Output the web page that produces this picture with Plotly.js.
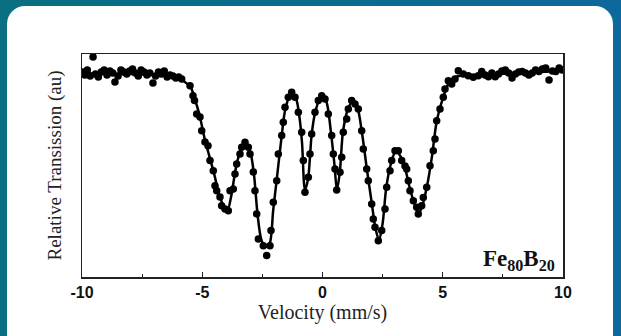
<!DOCTYPE html>
<html>
<head>
<meta charset="utf-8">
<script src="https://cdn.plot.ly/plotly-3.0.1.min.js"></script>
<style>
  html, body { margin: 0; padding: 0; }
  body { width: 621px; height: 336px; overflow: hidden; position: relative;
         background: linear-gradient(90deg, #0a6f80 0%, #0b6c8e 50%, #0d689c 100%); }
  #card { position: absolute; left: 7px; top: 6px; width: 606px; height: 350px;
          background: #ffffff; border-radius: 18px; }
  #chart { position: absolute; left: 0; top: 0; width: 621px; height: 336px; }
</style>
</head>
<body>
<div id="card"></div>
<div id="chart"></div>
<script>
// Measured Mössbauer spectrum (velocity in mm/s, relative transmission in a.u.)
const velocity = [
  -9.98, -9.88, -9.78, -9.66, -9.54, -9.44, -9.32, -9.20, -9.08, -8.96,
  -8.84, -8.72, -8.63, -8.50, -8.38, -8.26, -8.14, -8.02, -7.90, -7.78,
  -7.66, -7.54, -7.42, -7.30, -7.18, -7.05, -6.94, -6.82, -6.70, -6.58,
  -6.46, -6.34, -6.22, -6.10, -5.98,
  -5.855, -5.509, -5.385, -5.322, -5.231, -5.094, -5.023, -4.886, -4.761, -4.678,
  -4.541, -4.470, -4.399, -4.263, -4.193, -4.054, -3.917, -3.846, -3.709, -3.638,
  -3.568, -3.430, -3.360, -3.222, -3.085, -3.015, -2.877, -2.807, -2.736, -2.669,
  -2.462, -2.320, -2.183, -2.141, -2.046, -1.904, -1.838, -1.696, -1.630, -1.559,
  -1.422, -1.281, -1.143, -1.006, -0.865, -0.798, -0.728, -0.590, -0.520, -0.449,
  -0.312, -0.175, -0.033, 0.104, 0.241, 0.383, 0.449, 0.520, 0.590, 0.728,
  0.798, 0.865, 1.006, 1.073, 1.214, 1.351, 1.489, 1.630, 1.696, 1.838,
  1.904, 2.046, 2.112, 2.183, 2.320, 2.462, 2.599, 2.669, 2.807, 2.877,
  3.015, 3.152, 3.293, 3.430, 3.500, 3.568, 3.638, 3.776, 3.917, 3.983,
  4.123, 4.191, 4.333, 4.470, 4.607, 4.678, 4.748, 4.886, 5.023, 5.094,
  5.231, 5.372, 5.509, 5.647, 5.855, 6.062, 6.270, 6.478,
  6.62, 6.76, 6.90, 7.04, 7.18, 7.32, 7.46, 7.60, 7.74, 7.88,
  8.02, 8.16, 8.30, 8.44, 8.58, 8.72, 8.86, 9.00, 9.14, 9.28,
  9.42, 9.56, 9.70, 9.84, 9.97
];
const transmission = [
  0.919, 0.906, 0.928, 0.901, 0.987, 0.910, 0.897, 0.919, 0.928, 0.906,
  0.924, 0.915, 0.874, 0.901, 0.928, 0.919, 0.910, 0.924, 0.933, 0.915,
  0.901, 0.928, 0.919, 0.906, 0.915, 0.870, 0.901, 0.919, 0.910, 0.924,
  0.897, 0.906, 0.901, 0.892, 0.897,
  0.888, 0.858, 0.813, 0.791, 0.731, 0.717, 0.656, 0.605, 0.589, 0.522,
  0.477, 0.409, 0.387, 0.359, 0.320, 0.305, 0.297, 0.387, 0.395, 0.462,
  0.507, 0.552, 0.582, 0.604, 0.582, 0.552, 0.471, 0.387, 0.283, 0.170,
  0.140, 0.096, 0.140, 0.208, 0.335, 0.432, 0.552, 0.634, 0.694, 0.761,
  0.806, 0.828, 0.806, 0.739, 0.649, 0.522, 0.380, 0.447, 0.552, 0.641,
  0.739, 0.791, 0.813, 0.798, 0.731, 0.634, 0.552, 0.484, 0.390, 0.470,
  0.537, 0.649, 0.709, 0.753, 0.791, 0.776, 0.753, 0.656, 0.574, 0.484,
  0.432, 0.327, 0.260, 0.223, 0.163, 0.208, 0.305, 0.402, 0.477, 0.522,
  0.566, 0.566, 0.522, 0.498, 0.484, 0.432, 0.387, 0.342, 0.313, 0.283,
  0.320, 0.357, 0.402, 0.499, 0.566, 0.619, 0.701, 0.753, 0.806, 0.843,
  0.880, 0.865, 0.888, 0.925, 0.910, 0.903, 0.896, 0.903,
  0.921, 0.906, 0.898, 0.915, 0.898, 0.910, 0.924, 0.928, 0.915, 0.892,
  0.910, 0.919, 0.921, 0.915, 0.906, 0.915, 0.928, 0.921, 0.933, 0.937,
  0.883, 0.924, 0.921, 0.937, 0.928
];
// Fitted curve
const fitVelocity = [
  -10, -8, -6.5, -6.0, -5.8, -5.5, -5.3, -5.1, -4.9, -4.7,
  -4.5, -4.3, -4.1, -3.95, -3.8, -3.6, -3.4, -3.2, -3.0, -2.85,
  -2.7, -2.55, -2.38, -2.2, -2.05, -1.9, -1.7, -1.55, -1.3, -1.1,
  -0.95, -0.85, -0.73, -0.6, -0.45, -0.3, -0.05, 0.15, 0.35, 0.5,
  0.6, 0.72, 0.85, 1.05, 1.25, 1.45, 1.65, 1.85, 2.05, 2.2,
  2.35, 2.5, 2.65, 2.85, 3.05, 3.25, 3.45, 3.65, 3.85, 4.0,
  4.15, 4.35, 4.55, 4.75, 5.0, 5.25, 5.5, 5.8, 7, 10
];
const fitTransmission = [
  0.912, 0.910, 0.905, 0.895, 0.880, 0.855, 0.795, 0.720, 0.620, 0.540,
  0.460, 0.370, 0.315, 0.300, 0.360, 0.490, 0.570, 0.600, 0.560, 0.460,
  0.280, 0.170, 0.135, 0.150, 0.300, 0.440, 0.630, 0.750, 0.825, 0.800,
  0.710, 0.600, 0.390, 0.440, 0.640, 0.740, 0.812, 0.790, 0.650, 0.500,
  0.390, 0.470, 0.650, 0.750, 0.788, 0.760, 0.640, 0.480, 0.330, 0.220,
  0.165, 0.240, 0.400, 0.510, 0.565, 0.540, 0.480, 0.390, 0.320, 0.285,
  0.320, 0.410, 0.540, 0.700, 0.800, 0.870, 0.895, 0.905, 0.908, 0.925
];
const tickValues = [-10, -5, 0, 5, 10];
const tickLabels = ['-10', '-5', '0', '5', '10'];

const traces = [
  { x: fitVelocity, y: fitTransmission, type: 'scatter', mode: 'lines',
    line: { color: '#000', width: 2.5, shape: 'spline', smoothing: 0.8 },
    hoverinfo: 'skip', showlegend: false },
  { x: velocity, y: transmission, type: 'scatter', mode: 'markers',
    marker: { color: '#000', size: 7.5 }, showlegend: false }
];

const layout = {
  width: 621, height: 336,
  margin: { l: 82, r: 58, t: 54, b: 59 },
  paper_bgcolor: 'rgba(0,0,0,0)',
  plot_bgcolor: '#ffffff',
  showlegend: false,
  xaxis: {
    range: [-10, 10], tickvals: tickValues, ticktext: tickLabels,
    ticks: 'inside', ticklen: 5, tickcolor: '#222', tickwidth: 1,
    minor: { dtick: 2.5, tick0: 0, ticks: 'inside', ticklen: 3, tickcolor: '#222' },
    showline: true, linecolor: '#222', linewidth: 1.5, mirror: true,
    showgrid: false, zeroline: false,
    tickfont: { family: 'Liberation Sans, Arial, sans-serif', size: 16, color: '#111', weight: 'bold' },
    title: { text: 'Velocity (mm/s)', standoff: 0,
             font: { family: 'Liberation Serif, Times New Roman, serif', size: 20, color: '#222' } }
  },
  yaxis: {
    range: [0, 1], showticklabels: false, ticks: '',
    showline: true, linecolor: '#222', linewidth: 1.5, mirror: true,
    showgrid: false, zeroline: false,
    title: { text: 'Relative Transission (au)', standoff: 14,
             font: { family: 'Liberation Serif, Times New Roman, serif', size: 19, color: '#222' } }
  },
  annotations: [{
    xref: 'paper', yref: 'paper', x: 0.988, y: 0.005,
    xanchor: 'right', yanchor: 'bottom', showarrow: false,
    text: 'Fe<sub>80</sub>B<sub>20</sub>',
    font: { family: 'Liberation Serif, Times New Roman, serif', size: 23, color: '#111', weight: 'bold' }
  }]
};

Plotly.newPlot('chart', traces, layout, { displayModeBar: false, staticPlot: true });
</script>
</body>
</html>
